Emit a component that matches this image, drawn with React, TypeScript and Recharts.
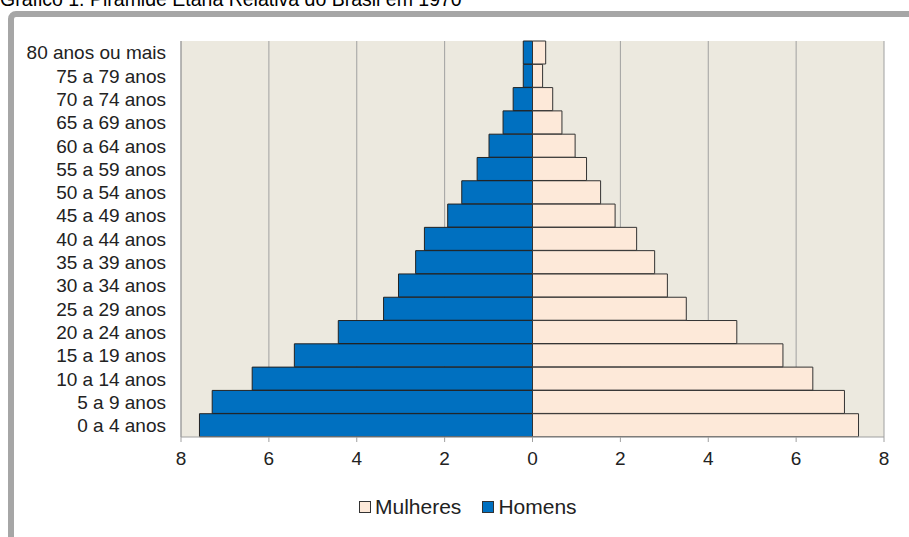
import React from 'react';
import { BarChart, Bar, XAxis, YAxis, CartesianGrid } from 'recharts';

const faixas = [
  '0 a 4 anos', '5 a 9 anos', '10 a 14 anos', '15 a 19 anos', '20 a 24 anos',
  '25 a 29 anos', '30 a 34 anos', '35 a 39 anos', '40 a 44 anos', '45 a 49 anos',
  '50 a 54 anos', '55 a 59 anos', '60 a 64 anos', '65 a 69 anos', '70 a 74 anos',
  '75 a 79 anos', '80 anos ou mais',
];

const homens = [7.58, 7.29, 6.38, 5.42, 4.42, 3.39, 3.05, 2.66, 2.46, 1.93, 1.61, 1.26, 0.99, 0.67, 0.44, 0.21, 0.21];
const mulheres = [7.42, 7.10, 6.38, 5.70, 4.65, 3.50, 3.07, 2.78, 2.37, 1.88, 1.55, 1.23, 0.97, 0.67, 0.46, 0.23, 0.30];

const xTicks = [-8, -6, -4, -2, 0, 2, 4, 6, 8];

const rows = faixas.map((faixa, i) => ({
  faixa,
  homens: -homens[i],
  mulheres: mulheres[i],
}));

const font = '"Liberation Sans", Arial, sans-serif';
const corHomens = '#0070C0';
const corMulheres = '#FDE9D9';

const LegendItem: React.FC<{ color: string; label: string; gap: number }> = ({ color, label, gap }) => (
  <span style={{ display: 'inline-flex', alignItems: 'center', marginRight: gap }}>
    <span
      style={{
        display: 'inline-block',
        width: 10,
        height: 10,
        background: color,
        border: '1px solid #333',
        marginRight: 4,
      }}
    />
    {label}
  </span>
);

const App: React.FC = () => {
  return (
    <div style={{ position: 'absolute', left: 0, top: 0, width: 909, height: 537, overflow: 'hidden', background: '#fff', fontFamily: font }}>
      <div style={{ position: 'absolute', left: 0, top: -10, fontSize: 19.5, lineHeight: '19px', color: '#000', whiteSpace: 'nowrap' }}>
        Gráfico 1. Pirâmide Etária Relativa do Brasil em 1970
      </div>
      <div
        style={{
          position: 'absolute',
          left: 8,
          top: 11,
          width: 960,
          height: 600,
          border: '6px solid #A6A6A6',
          borderRadius: 8,
          boxSizing: 'border-box',
        }}
      />
      <div style={{ position: 'absolute', left: 0, top: 0 }}>
        <BarChart
          width={909}
          height={537}
          data={rows}
          layout="vertical"
          stackOffset="sign"
          barCategoryGap={0}
          margin={{ top: 41, right: 25, bottom: 70, left: 0 }}
        >
          <CartesianGrid horizontal={false} stroke="#A0A0A0" fill="#ECE9DF" />
          <XAxis
            type="number"
            domain={[-8, 8]}
            ticks={xTicks}
            tickFormatter={(v: number) => String(Math.abs(v))}
            height={30}
            stroke="#A0A0A0"
            tickSize={5}
            tickMargin={10}
            tick={{ fill: '#222', fontSize: 19, fontFamily: font }}
            interval={0}
          />
          <YAxis
            type="category"
            dataKey="faixa"
            reversed
            width={181}
            stroke="#A0A0A0"
            tickLine={false}
            tickSize={6}
            tickMargin={9}
            interval={0}
            tick={{ fill: '#222', fontSize: 19, fontFamily: font }}
          />
          <Bar dataKey="homens" stackId="a" fill={corHomens} stroke="#222" strokeWidth={1} isAnimationActive={false} />
          <Bar dataKey="mulheres" stackId="a" fill={corMulheres} stroke="#333" strokeWidth={1} isAnimationActive={false} />
        </BarChart>
      </div>
      <div
        style={{
          position: 'absolute',
          left: 359,
          top: 495,
          fontSize: 21,
          lineHeight: '24px',
          color: '#222',
          display: 'flex',
          whiteSpace: 'nowrap',
        }}
      >
        <LegendItem color={corMulheres} label="Mulheres" gap={21} />
        <LegendItem color={corHomens} label="Homens" gap={0} />
      </div>
    </div>
  );
};

export default App;
